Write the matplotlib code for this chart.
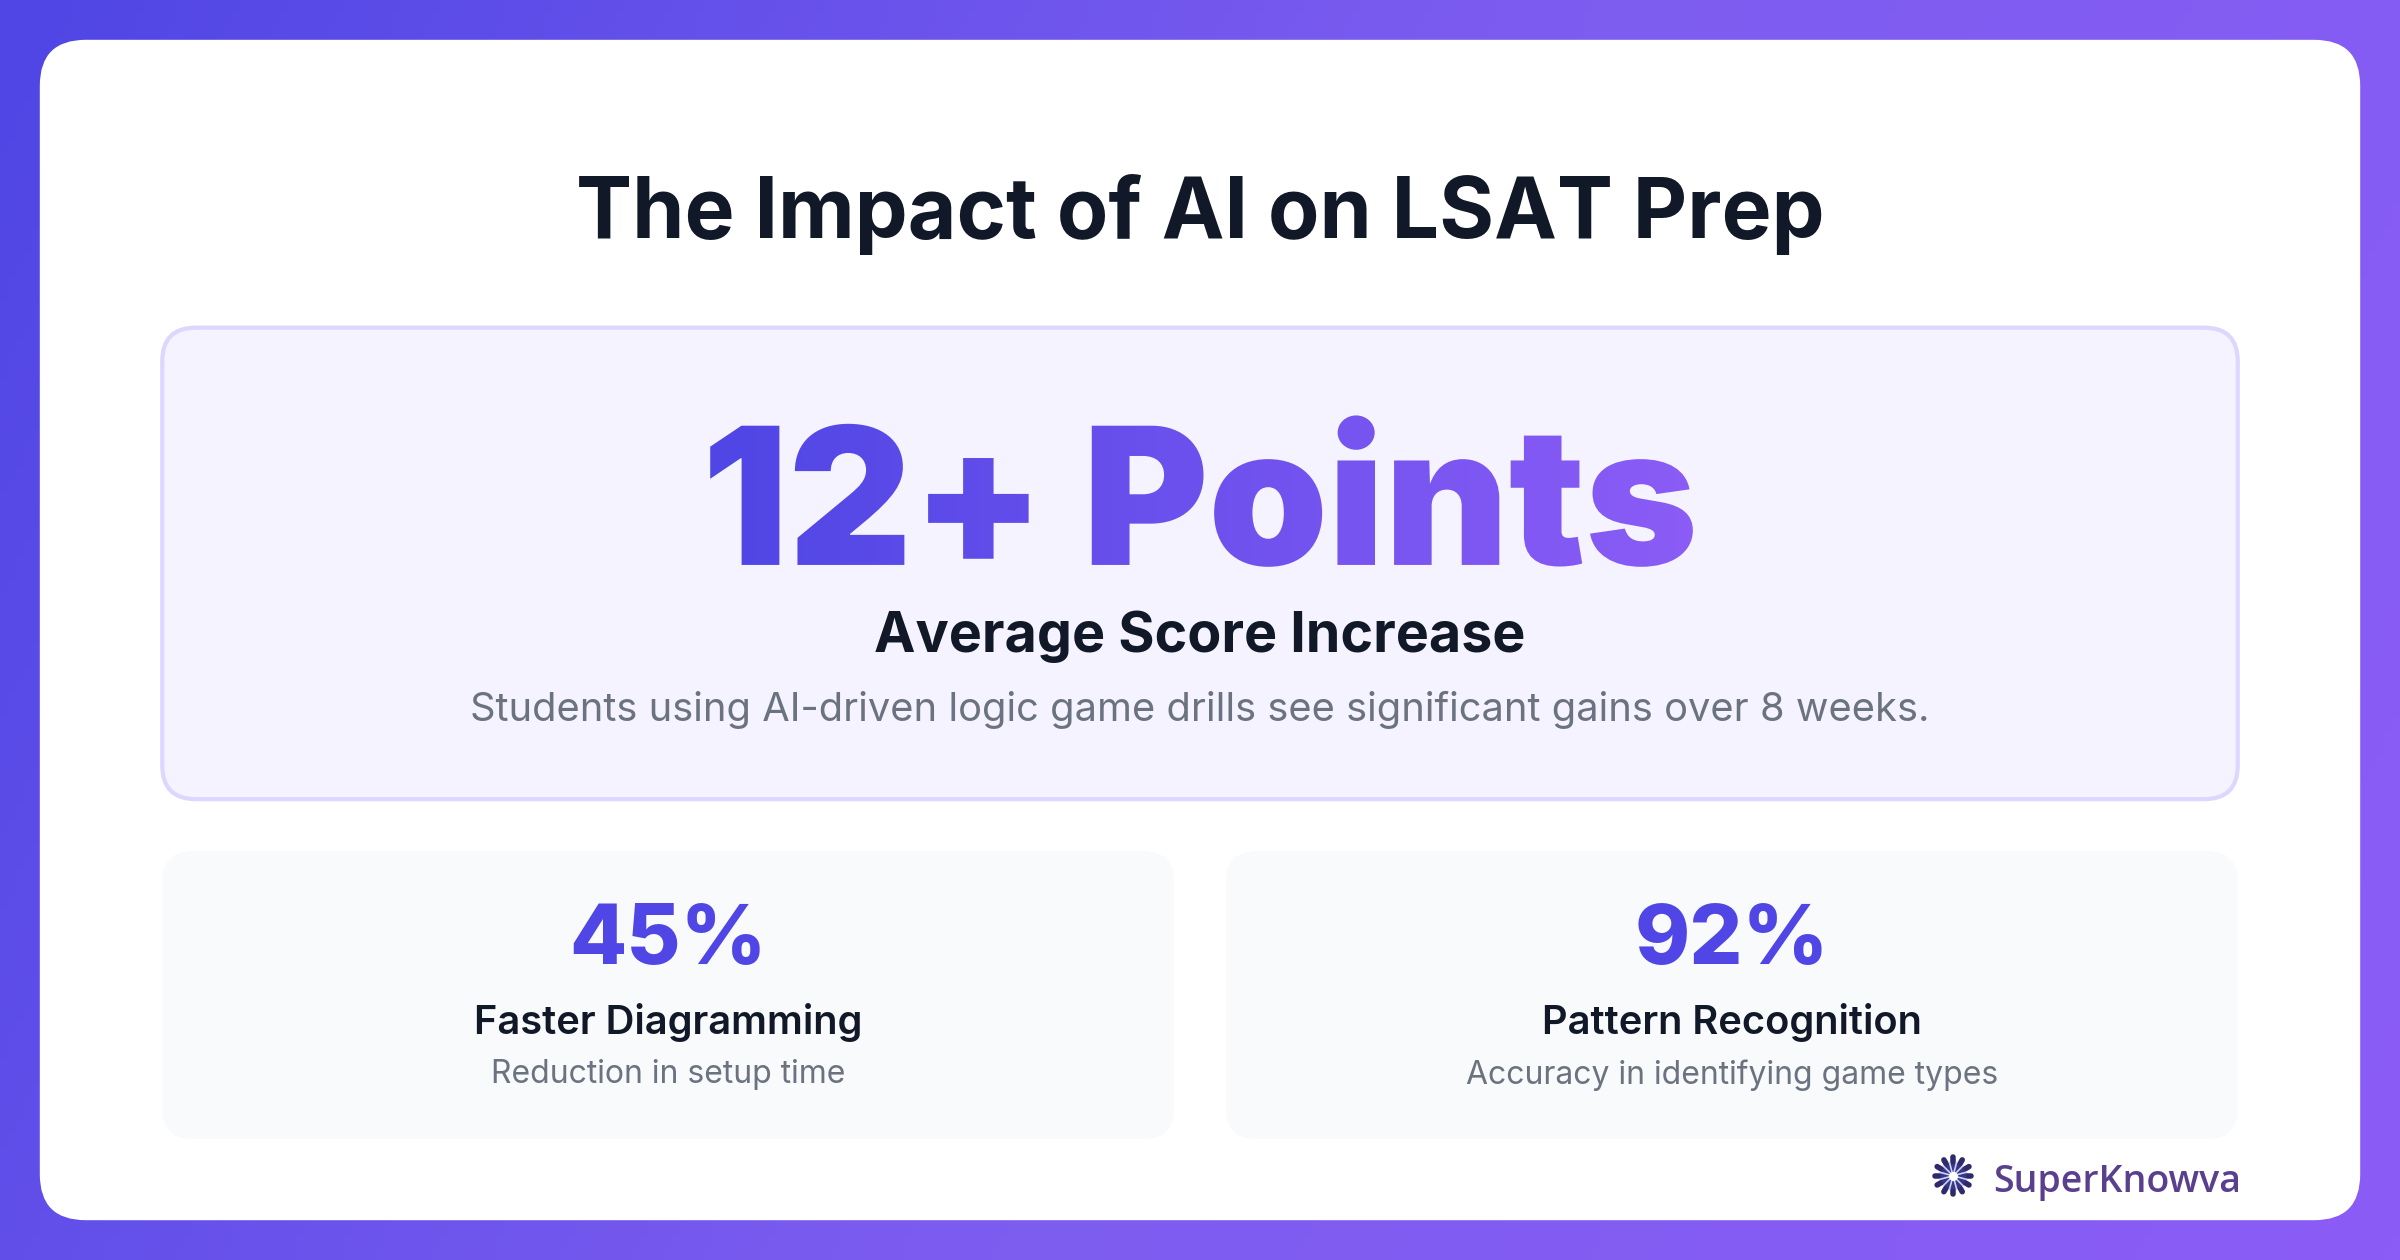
import numpy as np
import matplotlib
matplotlib.use("Agg")
import matplotlib.pyplot as plt
from matplotlib.patches import FancyBboxPatch, PathPatch
from matplotlib.textpath import TextPath
from matplotlib.font_manager import FontProperties
from matplotlib.transforms import Affine2D
from matplotlib.colors import LinearSegmentedColormap

title = "The Impact of AI on LSAT Prep"
hero_value = "12+ Points"
hero_label = "Average Score Increase"
hero_desc = "Students using AI-driven logic game drills see significant gains over 8 weeks."
stat_values = ["45%", "92%"]
stat_labels = ["Faster Diagramming", "Pattern Recognition"]
stat_descs = ["Reduction in setup time", "Accuracy in identifying game types"]
brand = "SuperKnowva"

W, H = 1568, 823
fig = plt.figure(figsize=(24, 12.6), dpi=100)
ax = fig.add_axes([0, 0, 1, 1])
ax.set_xlim(0, W); ax.set_ylim(H, 0); ax.axis("off")

grad = LinearSegmentedColormap.from_list("g", ["#4f46e5", "#7c5cf0", "#8b5cf6"])
gx = np.linspace(0, 1, 300)[None, :] * 0.8 + np.linspace(0, 1, 100)[:, None] * 0.2
ax.imshow(gx, cmap=grad, extent=[0, W, H, 0], aspect="auto", zorder=0)

def rbox(x0, y0, x1, y1, r, fc, ec="none", lw=0, z=1):
    p = FancyBboxPatch((x0 + r, y0 + r), x1 - x0 - 2 * r, y1 - y0 - 2 * r,
                       boxstyle=f"round,pad={r}", fc=fc, ec=ec, lw=lw, zorder=z)
    ax.add_patch(p)
    return p

rbox(26, 26, 1542, 797, 30, "white", z=1)
ax.text(784, 140, title, ha="center", va="center", fontsize=60.5, fontweight="bold",
        family="Inter", color="#111827", zorder=3)

rbox(106, 214, 1462, 522, 22, "#f5f3ff", ec="#ddd6fe", lw=3, z=2)

fp = FontProperties(family="Inter", weight="black")
tp = TextPath((0, 0), hero_value, size=125, prop=fp)
ext = tp.get_extents()
cx = 785; base = 369
tr = Affine2D().translate(-(ext.x0 + ext.x1) / 2, 0).scale(1, -1).translate(cx, base)
path = tr.transform_path(tp)
patch = PathPatch(path, fc="none", ec="none", transform=ax.transData)
ax.add_patch(patch)
e = path.get_extents()
tg = LinearSegmentedColormap.from_list("t", ["#4f46e5", "#8b5cf6"])
im = ax.imshow(np.linspace(0, 1, 256)[None, :], cmap=tg,
               extent=[e.x0, e.x1, e.y1, e.y0], aspect="auto", zorder=4)
im.set_clip_path(patch)
ax.set_xlim(0, W); ax.set_ylim(H, 0)

ax.text(784, 416, hero_label, ha="center", va="center", fontsize=40, fontweight="bold",
        family="Inter", color="#111827", zorder=3)
ax.text(784, 464, hero_desc, ha="center", va="center", fontsize=28.7,
        family="Inter", color="#6b7280", zorder=3)

boxes = [(106, 767), (801, 1462)]
for (x0, x1), v, l, d in zip(boxes, stat_values, stat_labels, stat_descs):
    rbox(x0, 556, x1, 744, 20, "#f8fafc", z=2)
    c = (x0 + x1) / 2
    ax.text(c, 615, v, ha="center", va="center", fontsize=60, fontweight="heavy",
            family="Inter", color="#4f46e5", zorder=3)
    ax.text(c, 668, l, ha="center", va="center", fontsize=28.7, fontweight="semibold",
            family="Inter", color="#111827", zorder=3)
    ax.text(c, 702, d, ha="center", va="center", fontsize=23,
            family="Inter", color="#6b7280", zorder=3)

lx, ly = 1276, 768
ang = np.linspace(0, 2 * np.pi, 13)[:-1]
for a in ang:
    ax.plot([lx, lx + 12 * np.cos(a)], [ly, ly + 12 * np.sin(a)], color="#2e2a6b", lw=4, zorder=5,
            solid_capstyle="round")
ax.scatter([lx], [ly], s=300, color="#3b3680", zorder=5)
for a in ang:
    ax.plot([lx, lx + 9 * np.cos(a + 0.26)], [ly, ly + 9 * np.sin(a + 0.26)], color="#c7d2fe", lw=1.2, zorder=6)
ax.scatter([lx], [ly], s=30, color="white", zorder=7)
ax.text(1302, 772, brand, ha="left", va="center", fontsize=27, fontweight="semibold",
        family="Open Sans", color="#5b3f8f", zorder=5)

fig.savefig("out.png", dpi=100)
